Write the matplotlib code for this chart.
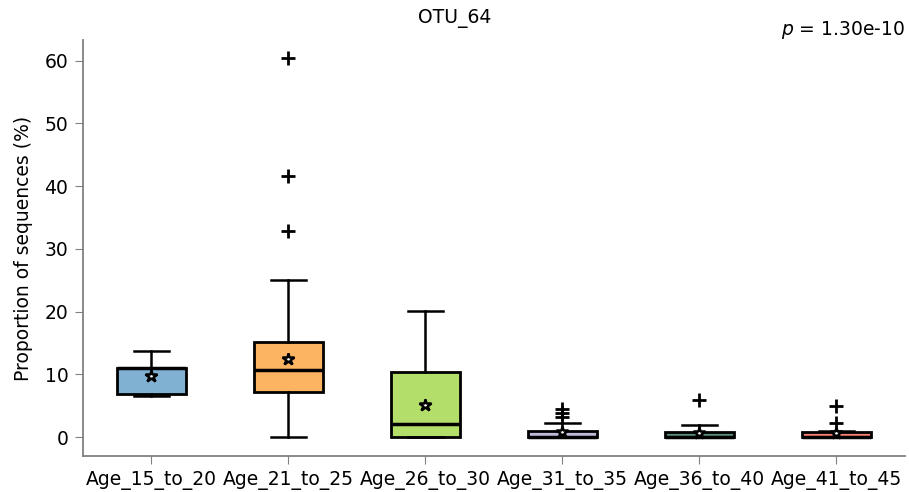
import numpy as np
import matplotlib
matplotlib.use("Agg")
import matplotlib.pyplot as plt

groups = ["Age_15_to_20", "Age_21_to_25", "Age_26_to_30",
          "Age_31_to_35", "Age_36_to_40", "Age_41_to_45"]
q1 = [6.9, 7.2, 0.0, 0.0, 0.0, 0.0]
med = [11.0, 10.7, 2.1, 0.0, 0.0, 0.0]
q3 = [11.0, 15.2, 10.4, 1.0, 0.9, 0.8]
wlo = [6.6, 0.0, 0.0, 0.0, 0.0, 0.0]
whi = [13.7, 25.1, 20.1, 2.2, 2.0, 1.0]
means = [9.8, 12.5, 5.2, 0.8, 0.7, 0.7]
fliers = [[], [32.8, 41.6, 60.4], [], [3.2, 3.9, 4.5], [6.0], [2.2, 5.0]]
colors = ["#80b1d3", "#fdb462", "#b3de69", "#bebada", "#5b8c7a", "#fb8072"]

stats = []
for i, g in enumerate(groups):
    stats.append(dict(label=g, q1=q1[i], med=med[i], q3=q3[i], whislo=wlo[i],
                      whishi=whi[i], mean=means[i], fliers=fliers[i]))

fig = plt.figure(figsize=(9.09, 4.92), dpi=100)
ax = fig.add_axes([0.0913, 0.0732, 0.9043, 0.8455])

bp = ax.bxp(stats, positions=range(len(groups)), widths=0.5, showmeans=True,
            patch_artist=True,
            boxprops=dict(linewidth=2, edgecolor="black"),
            medianprops=dict(color="black", linewidth=2.5),
            whiskerprops=dict(color="black", linewidth=1.8),
            capprops=dict(color="black", linewidth=1.8),
            flierprops=dict(marker="+", markersize=10, markeredgewidth=2,
                            markeredgecolor="black"),
            meanprops=dict(marker="*", markersize=9, markerfacecolor="white",
                           markeredgecolor="black", markeredgewidth=1.8))
for patch, c in zip(bp["boxes"], colors):
    patch.set_facecolor(c)

ax.set_xlim(-0.5, 5.5)
ax.set_ylim(-3, 63.3)
ax.set_yticks([0, 10, 20, 30, 40, 50, 60])
ax.set_xticks(range(len(groups)))
ax.set_xticklabels(groups)
ax.tick_params(labelsize=13.5, color="grey", length=5.5, pad=5)
ax.spines["top"].set_visible(False)
ax.spines["right"].set_visible(False)
ax.spines["left"].set_color("grey")
ax.spines["bottom"].set_color("grey")
ax.spines["left"].set_linewidth(1.3)
ax.spines["bottom"].set_linewidth(1.3)
ax.set_ylabel("Proportion of sequences (%)", fontsize=13.5, labelpad=8)

fig.text(0.5, 0.963, "OTU_64", ha="center", va="center", fontsize=13.5)
fig.text(0.996, 0.94, "$p$ = 1.30e-10", ha="right", va="center", fontsize=13.5)

fig.savefig("out.png", dpi=100)
